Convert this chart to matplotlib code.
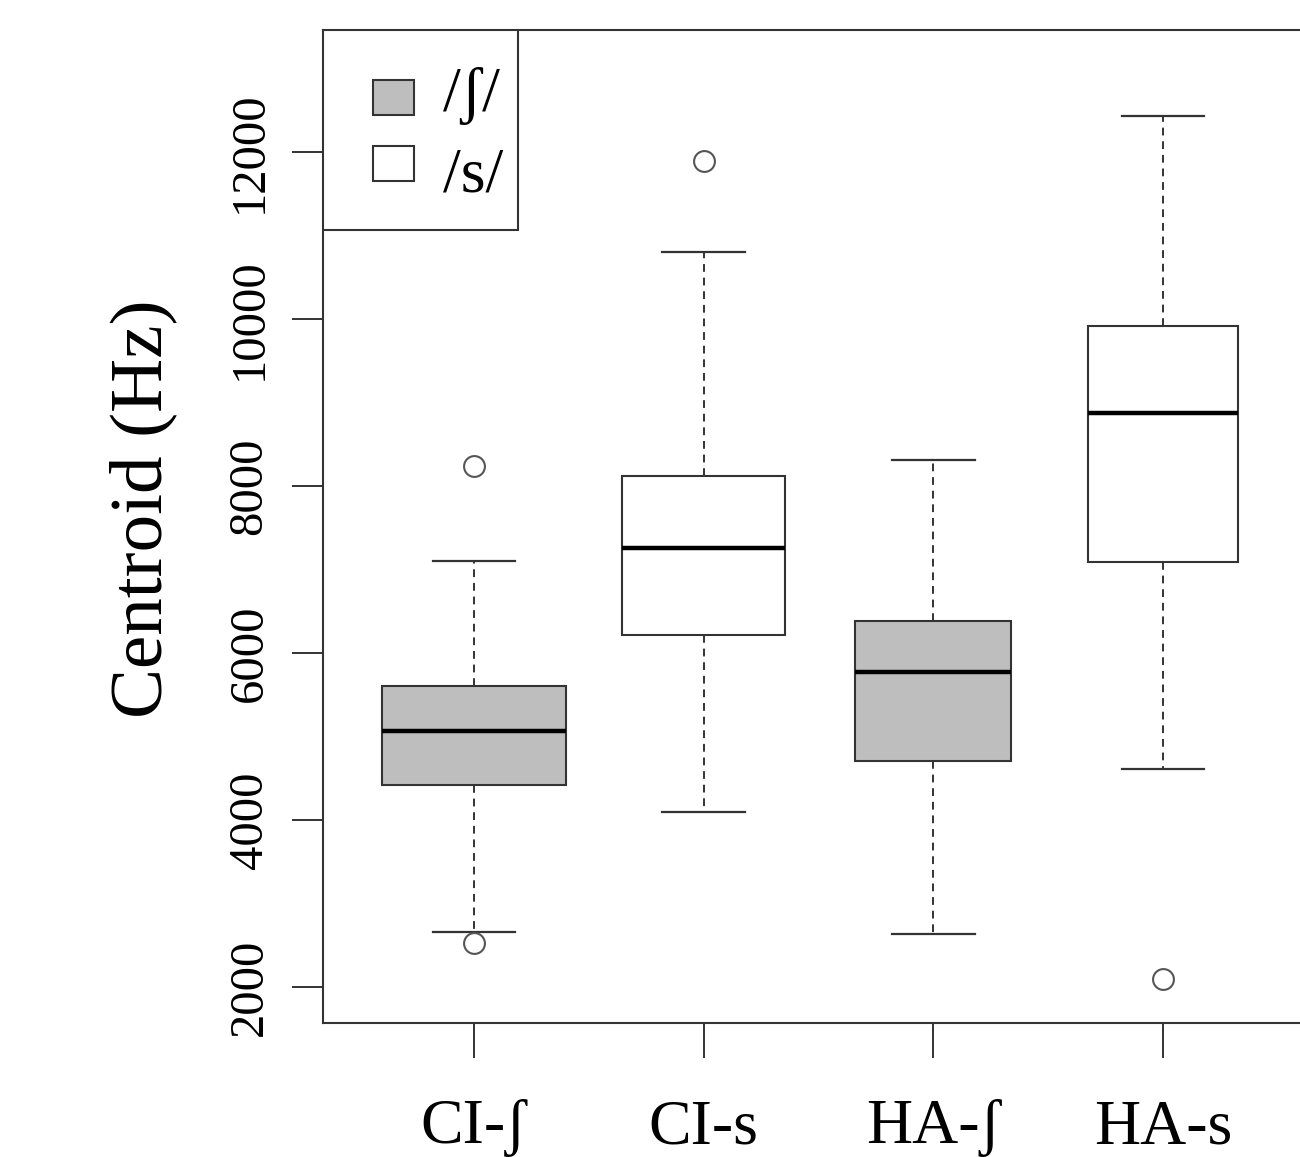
import matplotlib.pyplot as plt
from matplotlib.patches import Rectangle

# -----------------------------
# data
# -----------------------------
groups = ["CI-ʃ", "CI-s", "HA-ʃ", "HA-s"]
whisker_low = [2660, 4100, 2635, 4610]
q1 = [4420, 6215, 4710, 7090]
median = [5065, 7255, 5770, 8870]
q3 = [5605, 8120, 6385, 9915]
whisker_high = [7100, 10800, 8310, 12430]
outliers = [[8240, 2530], [11890], [], [2095]]
fills = ["#bebebe", "white", "#bebebe", "white"]

legend_labels = ["/ʃ/", "/s/"]
legend_fills = ["#bebebe", "white"]

# box widths differ per group (varwidth-style)
box_widths = [0.80, 0.71, 0.68, 0.65]

SERIF = ["Liberation Serif", "DejaVu Serif"]
LINE = "#333333"
W, H = 1300, 1157
AX_L, AX_R, AX_T, AX_B = 323, 1300, 30, 1023

plt.rcParams["font.family"] = SERIF

fig = plt.figure(figsize=(W / 100, H / 100), dpi=100)
ax = fig.add_axes([AX_L / W, 1 - AX_B / H, (AX_R - AX_L) / W, (AX_B - AX_T) / H])


def px(x, y):
    """picture pixel -> axes fraction"""
    return (x - AX_L) / (AX_R - AX_L), (AX_B - y) / (AX_B - AX_T)


stats = []
for i, name in enumerate(groups):
    stats.append({
        "label": name,
        "whislo": whisker_low[i],
        "q1": q1[i],
        "med": median[i],
        "q3": q3[i],
        "whishi": whisker_high[i],
        "fliers": outliers[i],
    })

bp = ax.bxp(
    stats,
    positions=range(1, len(groups) + 1),
    widths=box_widths,
    patch_artist=True,
    showfliers=True,
    boxprops=dict(edgecolor=LINE, linewidth=1.5),
    medianprops=dict(color="black", linewidth=3.2),
    whiskerprops=dict(color=LINE, linewidth=1.4, linestyle=(0, (4, 3))),
    capprops=dict(color=LINE, linewidth=1.6),
    capwidths=0.36,
    flierprops=dict(marker="o", markersize=15, markerfacecolor="none",
                    markeredgecolor="#555555", markeredgewidth=1.5),
)
for patch, col in zip(bp["boxes"], fills):
    patch.set_facecolor(col)

ax.set_xlim(0.343, 4.596)
ax.set_ylim(1569, 13461)
ax.set_yticks([2000, 4000, 6000, 8000, 10000, 12000])
ax.set_xticks(range(1, len(groups) + 1))
ax.set_xticklabels(groups)

ax.spines["right"].set_visible(False)
for s in ["left", "top", "bottom"]:
    ax.spines[s].set_color(LINE)
    ax.spines[s].set_linewidth(1.5)

ax.tick_params(axis="y", length=22, width=1.4, color=LINE, pad=15,
               labelsize=35, labelrotation=90)
ax.tick_params(axis="x", length=25, width=1.4, color=LINE, pad=30, labelsize=46)
for t in ax.get_yticklabels():
    t.set_va("center")
    t.set_family(SERIF)
for t in ax.get_xticklabels():
    t.set_family(SERIF)

fig.text(143 / W, 1 - 509 / H, "Centroid (Hz)", rotation=90,
         ha="center", va="center", fontsize=54, family=SERIF)

# legend (R-style box flush with the top-left corner)
x0, y0 = px(323, 230)
x1, y1 = px(518, 30)
ax.add_patch(Rectangle((x0, y0), x1 - x0, y1 - y0, transform=ax.transAxes,
                       facecolor="white", edgecolor=LINE, linewidth=1.5, zorder=3))
key_tops = [80, 146]
text_baselines = [111, 191]
for lab, col, top, base in zip(legend_labels, legend_fills, key_tops, text_baselines):
    kx, ky = px(373, top + 35)
    kx2, ky2 = px(414, top)
    ax.add_patch(Rectangle((kx, ky), kx2 - kx, ky2 - ky, transform=ax.transAxes,
                           facecolor=col, edgecolor=LINE, linewidth=1.5, zorder=4))
    tx, ty = px(443, base)
    ax.text(tx, ty, lab, transform=ax.transAxes, ha="left", va="baseline",
            fontsize=46, family=SERIF, zorder=4)

fig.savefig("out.png", dpi=100)
